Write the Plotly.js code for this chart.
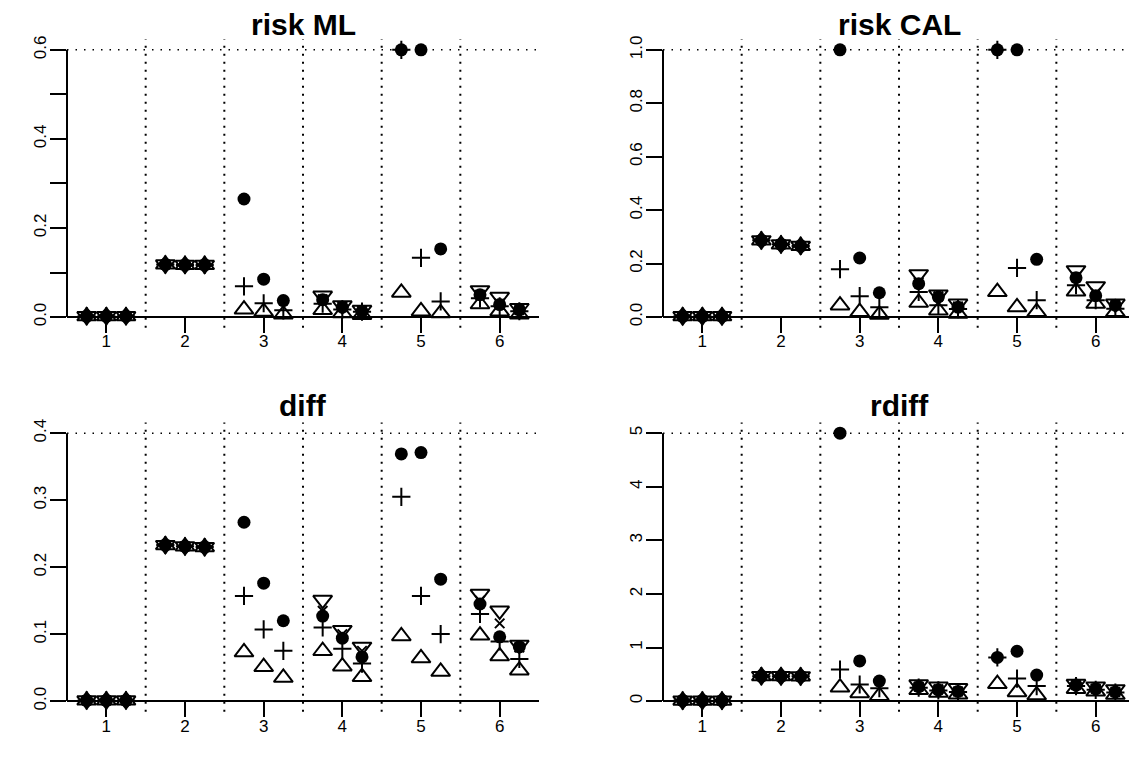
<!DOCTYPE html>
<html>
<head>
<meta charset="utf-8">
<script src="https://cdn.plot.ly/plotly-3.0.1.min.js"></script>
<style>
html,body{margin:0;padding:0;background:#fff;overflow:hidden;}
#chart{width:1129px;height:765px;}
</style>
</head>
<body>
<div id="chart"></div>
<script>
// ---------------- data ----------------
const groups = [1, 2, 3, 4, 5, 6];
const subOffsets = [-0.25, 0, 0.25];
const panelTitles = ["risk ML", "risk CAL", "diff", "rdiff"];
const panelMax = [0.6, 1.0, 0.4, 5];
const yTickVals = [
  [0, 0.1, 0.2, 0.3, 0.4, 0.5, 0.6],
  [0, 0.2, 0.4, 0.6, 0.8, 1.0],
  [0, 0.1, 0.2, 0.3, 0.4],
  [0, 1, 2, 3, 4, 5]
];
const yTickText = [
  ["0.0", "", "0.2", "", "0.4", "", "0.6"],
  ["0.0", "0.2", "0.4", "0.6", "0.8", "1.0"],
  ["0.0", "0.1", "0.2", "0.3", "0.4"],
  ["0", "1", "2", "3", "4", "5"]
];
const N = null;
// risk ML
const riskML_circle  = [0.002,0.002,0.002, 0.118,0.117,0.117, 0.265,0.085,0.037, 0.039,0.022,0.013, 0.6,0.6,0.153,   0.050,0.028,0.016];
const riskML_plus    = [0.002,0.002,0.002, 0.118,0.117,0.117, 0.069,0.031,0.015, 0.030,0.017,0.012, 0.6,0.133,0.035, 0.042,0.024,0.013];
const riskML_triUp   = [0.002,0.002,0.002, 0.118,0.117,0.117, 0.017,0.012,0.006, 0.016,0.009,0.005, 0.055,0.013,0.009, 0.029,0.013,0.006];
const riskML_triDown = [0.002,0.002,0.002, 0.118,0.117,0.117, N,N,N,             0.048,0.026,0.016, N,N,N,             0.060,0.045,0.020];
const riskML_cross   = [0.002,0.002,0.002, 0.118,0.117,0.117, N,N,N,             0.040,0.023,0.014, N,N,N,             0.050,0.030,0.016];
// risk CAL
const riskCAL_circle  = [0.003,0.003,0.003, 0.287,0.272,0.266, 1.0,0.221,0.091,   0.125,0.075,0.037, 1.0,1.0,0.216,   0.147,0.080,0.044];
const riskCAL_plus    = [0.003,0.003,0.003, 0.287,0.272,0.266, 0.179,0.078,0.037, 0.094,0.044,0.030, 1.0,0.184,0.063, 0.119,0.063,0.031];
const riskCAL_triUp   = [0.003,0.003,0.003, 0.287,0.272,0.266, 0.044,0.019,0.009, 0.054,0.025,0.013, 0.094,0.037,0.019, 0.096,0.050,0.019];
const riskCAL_triDown = [0.003,0.003,0.003, 0.287,0.272,0.266, N,N,N,             0.160,0.084,0.050, N,N,N,             0.175,0.115,0.050];
const riskCAL_cross   = [0.003,0.003,0.003, 0.287,0.272,0.266, N,N,N,             0.130,0.078,0.040, N,N,N,             0.150,0.090,0.045];
// diff
const diff_circle  = [0.001,0.001,0.001, 0.233,0.231,0.230, 0.267,0.176,0.120, 0.127,0.094,0.066, 0.369,0.371,0.182, 0.145,0.096,0.081];
const diff_plus    = [0.001,0.001,0.001, 0.233,0.231,0.230, 0.157,0.107,0.075, 0.110,0.078,0.056, 0.305,0.157,0.100, 0.130,0.089,0.063];
const diff_triUp   = [0.001,0.001,0.001, 0.233,0.231,0.230, 0.073,0.051,0.035, 0.075,0.052,0.036, 0.097,0.064,0.044, 0.098,0.067,0.046];
const diff_triDown = [0.001,0.001,0.001, 0.233,0.231,0.230, N,N,N,             0.151,0.106,0.081, N,N,N,             0.160,0.135,0.084];
const diff_cross   = [0.001,0.001,0.001, 0.233,0.231,0.230, N,N,N,             0.135,0.100,0.075, N,N,N,             0.150,0.116,0.080];
// rdiff
const rdiff_circle  = [0.01,0.01,0.01, 0.466,0.464,0.462, 5.0,0.75,0.373,  0.27,0.21,0.18, 0.815,0.93,0.485, 0.30,0.23,0.17];
const rdiff_plus    = [0.01,0.01,0.01, 0.466,0.464,0.462, 0.59,0.31,0.24,  0.25,0.20,0.17, 0.815,0.42,0.28,  0.28,0.21,0.16];
const rdiff_triUp   = [0.01,0.01,0.01, 0.466,0.464,0.462, 0.256,0.15,0.10, 0.21,0.16,0.125, 0.32,0.17,0.11,  0.23,0.18,0.12];
const rdiff_triDown = [0.01,0.01,0.01, 0.466,0.464,0.462, N,N,N,           0.31,0.27,0.24, N,N,N,            0.32,0.27,0.22];
const rdiff_cross   = [0.01,0.01,0.01, 0.466,0.464,0.462, N,N,N,           0.27,0.22,0.18, N,N,N,            0.30,0.23,0.17];

const panelSeries = [
  [riskML_circle, riskML_plus, riskML_triUp, riskML_triDown, riskML_cross],
  [riskCAL_circle, riskCAL_plus, riskCAL_triUp, riskCAL_triDown, riskCAL_cross],
  [diff_circle, diff_plus, diff_triUp, diff_triDown, diff_cross],
  [rdiff_circle, rdiff_plus, rdiff_triUp, rdiff_triDown, rdiff_cross]
];

// ---------------- styling ----------------
const W = 1129, H = 765;
const FONT = "Liberation Sans, Arial, Helvetica, sans-serif";
const markerStyles = [
  {symbol: "circle", size: 13, color: "black", line: {width: 0}},
  {symbol: "cross-thin-open", size: 13, color: "black", line: {color: "black", width: 2}},
  {symbol: "triangle-up-open", size: 16.5, color: "black", line: {color: "black", width: 2}},
  {symbol: "triangle-down-open", size: 16.5, color: "black", line: {color: "black", width: 2}},
  {symbol: "x-thin-open", size: 9.5, color: "black", line: {color: "black", width: 2}}
];
const xDomains = [[67 / W, 539 / W], [663 / W, 1], [67 / W, 539 / W], [663 / W, 1]];
const xRanges = [[0.5, 6.5], [0.5, 0.5 + 466 / 78.67], [0.5, 6.5], [0.5, 0.5 + 466 / 78.67]];
const yDomains = [[0.5716, 0.9488], [0.5716, 0.9488], [0.0695, 0.4478], [0.0695, 0.4478]];
const titleCentersPx = [303, 899.5, 303, 899.5];
const titleYPx = [25, 25, 405, 405];

const xs = [];
groups.forEach(g => subOffsets.forEach(o => xs.push(g + o)));

const traces = [];
const layout = {
  width: W, height: H,
  margin: {l: 0, r: 0, t: 0, b: 0},
  paper_bgcolor: "white", plot_bgcolor: "white",
  showlegend: false,
  font: {family: FONT, color: "black", size: 17},
  shapes: [], annotations: []
};

for (let p = 0; p < 4; p++) {
  const sfx = p === 0 ? "" : String(p + 1);
  const xa = "x" + sfx, ya = "y" + sfx;
  const ymax = panelMax[p];
  const yr = [-0.04 * ymax, 1.04 * ymax];
  const dom = yDomains[p];
  const zeroPos = dom[0] + (0 - yr[0]) / (yr[1] - yr[0]) * (dom[1] - dom[0]);

  layout["xaxis" + sfx] = {
    domain: xDomains[p], range: xRanges[p], anchor: "free", position: zeroPos,
    showgrid: false, zeroline: false, showline: true, linecolor: "black", linewidth: 2,
    ticks: "outside", ticklen: 15, tickwidth: 2, tickcolor: "black",
    ticklabelstandoff: -6,
    tickmode: "array", tickvals: groups, ticktext: groups.map(String),
    tickfont: {family: FONT, size: 17, color: "black"}, fixedrange: true
  };
  layout["yaxis" + sfx] = {
    domain: dom, range: yr, anchor: xa,
    showgrid: false, zeroline: false, showline: false,
    ticks: "outside", ticklen: 16, tickwidth: 2, tickcolor: "black",
    ticklabelstandoff: -3,
    tickmode: "array", tickvals: yTickVals[p], ticktext: yTickText[p], tickangle: -90,
    tickfont: {family: FONT, size: 17, color: "black"}, fixedrange: true
  };

  // vertical dotted separators between groups
  groups.slice(1).forEach(g => {
    layout.shapes.push({type: "line", xref: xa, yref: ya + " domain", x0: g - 0.5, x1: g - 0.5, y0: 0, y1: 1,
      line: {color: "black", width: 2, dash: "2px,6px"}, layer: "below"});
  });
  // horizontal dotted line at the top value
  layout.shapes.push({type: "line", xref: xa + " domain", yref: ya, x0: 0, x1: 1, y0: ymax, y1: ymax,
    line: {color: "black", width: 1.5, dash: "1.5px,7px"}, layer: "below"});
  // left axis line spanning the tick range
  layout.shapes.push({type: "line", xref: xa + " domain", yref: ya, x0: 0, x1: 0, y0: 0, y1: ymax,
    line: {color: "black", width: 2}});

  // title
  layout.annotations.push({text: "<b>" + panelTitles[p] + "</b>", xref: "paper", yref: "paper",
    x: titleCentersPx[p] / W, y: 1 - titleYPx[p] / H, xanchor: "center", yanchor: "middle", showarrow: false,
    font: {family: FONT, size: 30, color: "black"}});

  panelSeries[p].forEach((vals, s) => {
    traces.push({type: "scatter", mode: "markers", x: xs, y: vals, xaxis: xa, yaxis: ya,
      marker: markerStyles[s], hoverinfo: "x+y", cliponaxis: false});
  });
}

Plotly.newPlot("chart", traces, layout, {staticPlot: true, displayModeBar: false});
</script>
</body>
</html>
